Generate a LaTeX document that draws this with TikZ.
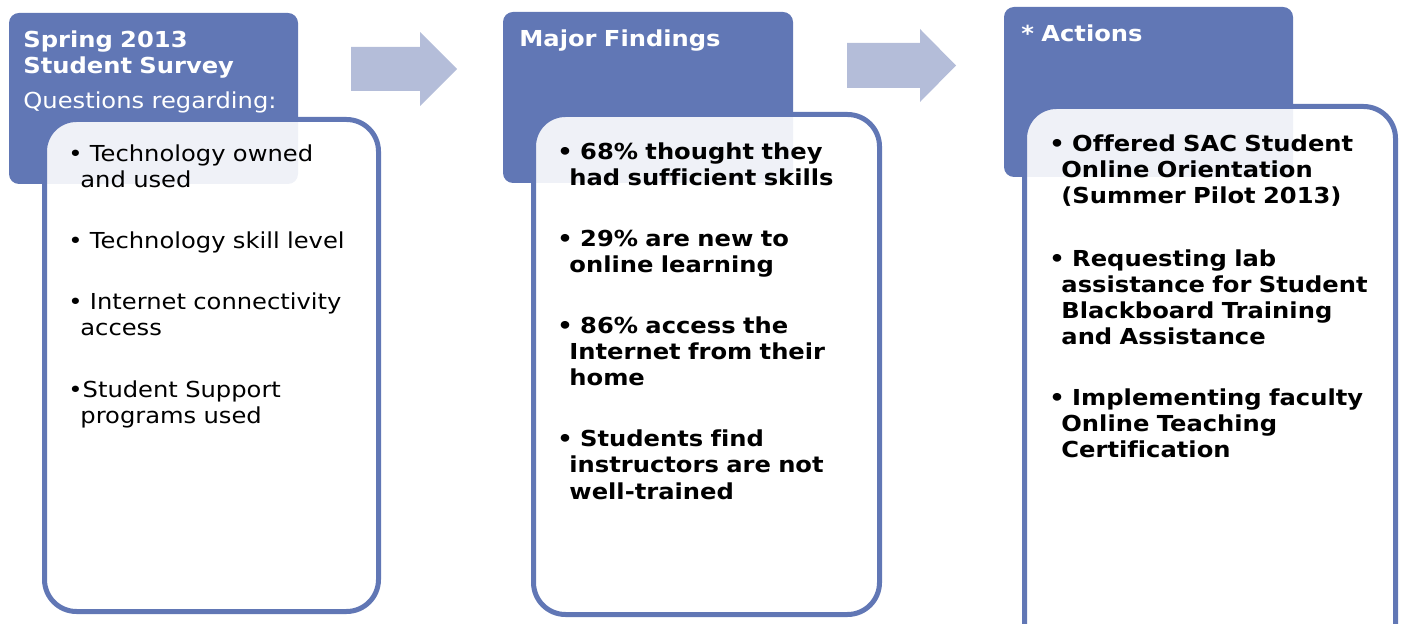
\documentclass[tikz,border=0pt]{standalone}
\usepackage{fontspec}
\setmainfont{DejaVu Sans}[FakeStretch=1.1, Ligatures=NoCommon]
\usepackage{tikz}

\definecolor{hdrblue}{RGB}{97,119,181}
\definecolor{arrowblue}{RGB}{180,189,217}

\tikzset{
  hdr/.style={fill=hdrblue, rounded corners=5pt},
  card/.style={draw=hdrblue, line width=2.5pt, fill=white, fill opacity=0.9, rounded corners=16pt},
  flow/.style={fill=arrowblue},
  head/.style={anchor=base west, inner sep=0pt, text=white, align=left, text width=140pt,
    font=\fontsize{11pt}{13pt}\selectfont\bfseries},
  item/.style={anchor=base west, inner sep=0pt, align=left, text width=170pt,
    font=\fontsize{11pt}{13pt}\selectfont},
  bitem/.style={item, font=\fontsize{11pt}{13pt}\selectfont\bfseries},
}
\newcommand{\wrapln}{\\\hspace*{6pt}}

\begin{document}
\begin{tikzpicture}[x=0.5pt, y=-0.5pt]
\useasboundingbox (0,0) rectangle (1401,624);
\clip (0,0) rectangle (1401,624);
% survey
\fill[hdr] (9,13) rectangle (298,184);
\draw[card] (44.5,119.5) rectangle (378.5,611.5);
\node[head] (survey) at (23,48) {Spring 2013\\Student Survey};
\node[head, font=\fontsize{11pt}{13pt}\selectfont] (regarding) at (23,109) {Questions regarding:};
\node[item] (owned) at (68,162) {\textbullet\ Technology owned\wrapln and used};
\node[item] (skill) at (68,249) {\textbullet\ Technology skill level};
\node[item] (internet) at (68,310) {\textbullet\ Internet connectivity\wrapln access};
\node[item] (support) at (68,398) {\textbullet Student Support\wrapln programs used};
% arrow 1
\fill[flow] (351,47) -- (420,47) -- (420,32) -- (457,69) -- (420,106) -- (420,91) -- (351,91) -- cycle;
% findings
\fill[hdr] (503,12) rectangle (793,183);
\draw[card] (533.5,114.5) rectangle (879.5,614.5);
\node[head] (findings) at (519,47) {Major Findings};
\node[bitem] (sixtyeight) at (557,160) {\textbullet\ 68\% thought they\wrapln had sufficient skills};
\node[bitem] (twentynine) at (557,247) {\textbullet\ 29\% are new to\wrapln online learning};
\node[bitem] (eightysix) at (557,334) {\textbullet\ 86\% access the\wrapln Internet from their\wrapln home};
\node[bitem] (trained) at (557,447) {\textbullet\ Students find\wrapln instructors are not\wrapln well-trained};
% arrow 2
\fill[flow] (847,43) -- (920,43) -- (920,29) -- (956,65.5) -- (920,102) -- (920,88) -- (847,88) -- cycle;
% actions
\fill[hdr] (1004,7) rectangle (1293,177);
\draw[card] (1024.5,106.5) rectangle (1395.5,660);
\node[head] (actions) at (1021,42) {* Actions};
\node[bitem] (orientation) at (1049,152) {\textbullet\ Offered SAC Student\wrapln Online Orientation\wrapln (Summer Pilot 2013)};
\node[bitem] (lab) at (1049,267) {\textbullet\ Requesting lab\wrapln assistance for Student\wrapln Blackboard Training\wrapln and Assistance};
\node[bitem] (faculty) at (1049,406) {\textbullet\ Implementing faculty\wrapln Online Teaching\wrapln Certification};
\end{tikzpicture}
\end{document}
